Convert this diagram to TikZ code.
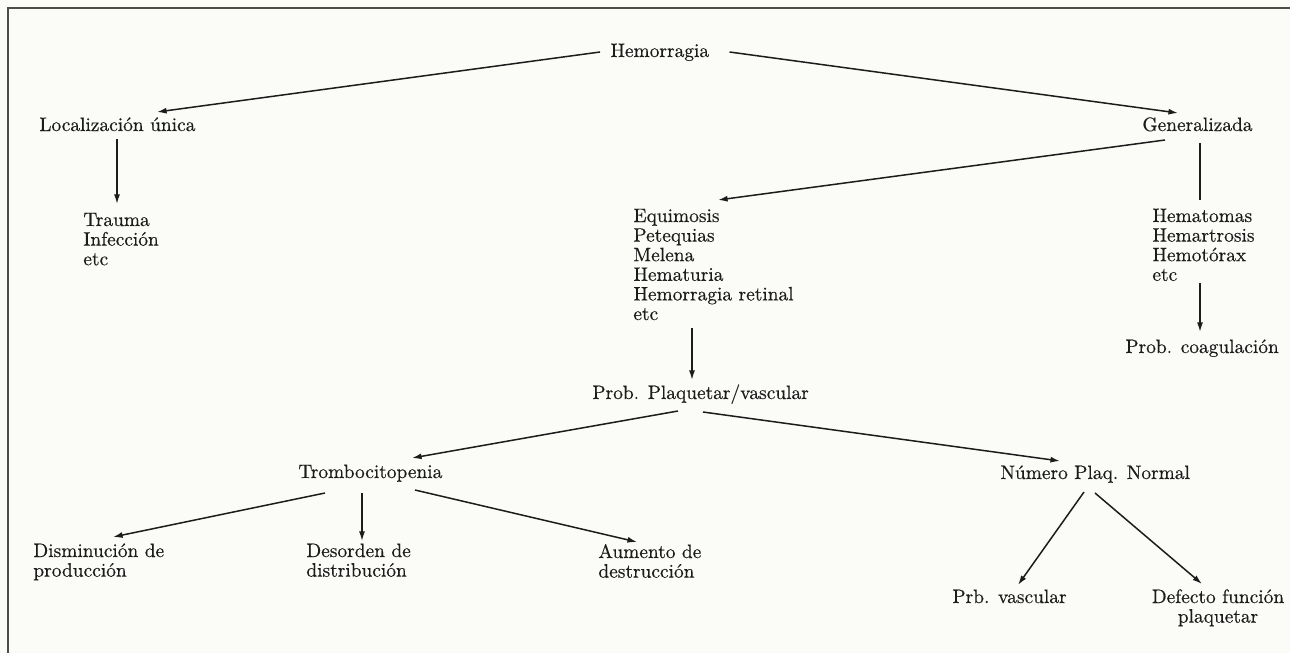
\documentclass[tikz,border=0pt]{standalone}
\usepackage{fontspec}
\setmainfont{lmroman10-regular.otf}[FakeBold=0.35]
\usetikzlibrary{arrows.meta}
\definecolor{paper}{RGB}{251,251,248}
\definecolor{ink}{RGB}{28,28,28}
\begin{document}
\begin{tikzpicture}[x=0.5pt,y=-0.5pt,
  txt/.style={inner sep=0pt, text=ink, font=\fontsize{9.7}{9.8}\selectfont},
  lbl/.style={txt, anchor=base west},
  link/.style={line width=0.75pt, draw=ink},
  arr/.style={link, -{Latex[length=4.8pt,width=3pt]}},
  frameline/.style={line width=0.8pt, draw=black!70}]
\useasboundingbox (0,0) rectangle (1290,653);
\fill[paper] (0,0) rectangle (1290,653);
% frame (top and left edges)
\draw[frameline] (8,653) -- (8,8) -- (1290,8);

% nodes
\node[lbl] (hem)  at (610,57)  {Hemorragia};
\node[lbl] (loc)  at (39,131)  {Localización única};
\node[lbl] (gen)  at (1142,131) {Generalizada};
\node[lbl] (trau) at (83,226)  {\begin{tabular}[t]{@{}l@{}}Trauma\\Infección\\etc\end{tabular}};
\node[lbl] (equi) at (633,222) {\begin{tabular}[t]{@{}l@{}}Equimosis\\Petequias\\Melena\\Hematuria\\Hemorragia retinal\\etc\end{tabular}};
\node[lbl] (hmat) at (1152,222) {\begin{tabular}[t]{@{}l@{}}Hematomas\\Hemartrosis\\Hemotórax\\etc\end{tabular}};
\node[lbl] (coag) at (1125,353) {Prob. coagulación};
\node[lbl] (plaq) at (592,399) {Prob. Plaquetar/vascular};
\node[lbl] (trom) at (298,478) {Trombocitopenia};
\node[lbl] (nplq) at (1000,479) {Número Plaq. Normal};
\node[lbl] (dism) at (33,557)  {\begin{tabular}[t]{@{}l@{}}Disminución de\\producción\end{tabular}};
\node[lbl] (deso) at (306,557) {\begin{tabular}[t]{@{}l@{}}Desorden de\\distribución\end{tabular}};
\node[lbl] (aume) at (598,558) {\begin{tabular}[t]{@{}l@{}}Aumento de\\destrucción\end{tabular}};
\node[lbl] (prbv) at (952,603) {Prb. vascular};
\node[txt, anchor=base] (defe) at (1218,603) {\begin{tabular}[t]{@{}c@{}}Defecto función\\plaquetar\end{tabular}};

% connectors
\draw[arr] ([shift={(-10,-5)}]hem.base west) -- ([shift={(118,-19)}]loc.base west);
\draw[arr] ([shift={(20,-5)}]hem.base east) -- ([shift={(36,-18)}]gen.base west);
\draw[arr] ([shift={(78,8)}]loc.base west) -- ([shift={(34,-22)}]trau.base west);
\draw[arr] ([shift={(23,9)}]gen.base west) -- ([shift={(85,-22)}]equi.base west);
\draw[link] ([shift={(58,12)}]gen.base west) -- ([shift={(48,-22)}]hmat.base west);
\draw[arr] ([shift={(59,106)}]equi.base west) -- ([shift={(100,-19)}]plaq.base west);
\draw[arr] ([shift={(48,61)}]hmat.base west) -- ([shift={(75,-21)}]coag.base west);
\draw[arr] ([shift={(86,12)}]plaq.base west) -- ([shift={(114,-20)}]trom.base west);
\draw[arr] ([shift={(111,13)}]plaq.base west) -- ([shift={(60,-18)}]nplq.base west);
\draw[arr] ([shift={(27,15)}]trom.base west) -- ([shift={(80,-20)}]dism.base west);
\draw[arr] ([shift={(64,15)}]trom.base west) -- ([shift={(56,-16)}]deso.base west);
\draw[arr] ([shift={(117,12)}]trom.base west) -- ([shift={(39,-16)}]aume.base west);
\draw[arr] ([shift={(84,13)}]nplq.base west) -- ([shift={(66,-18)}]prbv.base west);
\draw[arr] ([shift={(95,14)}]nplq.base west) -- ([shift={(-16,-19)}]defe.base);
\end{tikzpicture}
\end{document}
